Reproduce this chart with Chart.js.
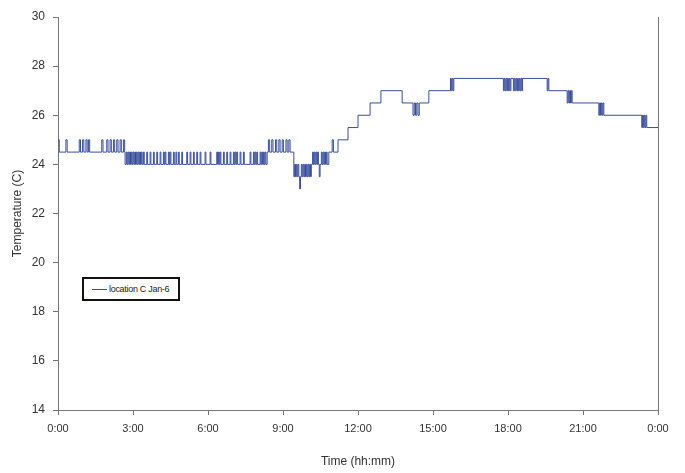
<!DOCTYPE html>
<html>
<head>
<meta charset="utf-8">
<script src="https://cdn.jsdelivr.net/npm/chart.js@4.4.1/dist/chart.umd.min.js"></script>
<style>
  body { margin: 0; background: #fff; }
  #wrap { position: relative; width: 685px; height: 473px; }
  #legend {
    position: absolute; left: 82px; top: 277px; width: 94px; height: 20px;
    border: 2px solid #111; background: #fff;
    font-family: 'Liberation Sans', Arial, sans-serif;
    font-size: 9px; letter-spacing: -0.3px; color: #222; line-height: 20px; white-space: nowrap;
  }
  #legend .swatch {
    display: inline-block; width: 15px; height: 0; border-top: 1px solid #3a4f9c;
    vertical-align: middle; margin: 0 2px 0 8px;
  }
</style>
</head>
<body>
<div id="wrap">
  <canvas id="myChart" width="685" height="473"></canvas>
  <div id="legend"><span class="swatch"></span>location C Jan-6</div>
</div>
<script>
// readings: minutes after midnight, temperature in C (logger flickers between two levels)
var nightTimes = [0, 3, 19, 22, 51, 54, 59, 62, 67, 70, 73, 76, 105, 108, 117, 120, 125, 128, 133, 136, 141, 144, 149, 152, 157, 160];
var nightTemps = [25, 24.5, 25, 24.5, 25, 24.5, 25, 24.5, 25, 24.5, 25, 24.5, 25, 24.5, 25, 24.5, 25, 24.5, 25, 24.5, 25, 24.5, 25, 24.5, 25, 24.5];

var earlyTimes = [161, 164, 166, 168, 170, 172, 174, 176, 178, 180, 182, 184, 186, 188, 190, 192, 194, 196, 198, 200, 202,
    205, 207, 213, 215, 221, 223, 229, 231, 237, 239, 245, 247, 253, 255, 257, 259, 265, 267, 269, 271, 277, 279, 283, 285,
    289, 291, 297, 299, 309, 311, 317, 319, 325, 327, 333, 335, 341, 343, 353, 355, 365, 367, 381, 383, 385, 387, 389, 391,
    397, 399, 405, 407, 413, 415, 421, 423, 425, 427, 429, 431, 437, 439, 445, 447, 461, 463, 469, 471, 473, 475, 477, 479,
    485, 487, 489, 491, 493, 495, 497, 499];
var earlyTemps = [24, 24.5, 24, 24.5, 24, 24.5, 24, 24.5, 24, 24.5, 24, 24.5, 24, 24.5, 24, 24.5, 24, 24.5, 24, 24.5, 24,
    24.5, 24, 24.5, 24, 24.5, 24, 24.5, 24, 24.5, 24, 24.5, 24, 24.5, 24, 24.5, 24, 24.5, 24, 24.5, 24, 24.5, 24, 24.5, 24,
    24.5, 24, 24.5, 24, 24.5, 24, 24.5, 24, 24.5, 24, 24.5, 24, 24.5, 24, 24.5, 24, 24.5, 24, 24.5, 24, 24.5, 24, 24.5, 24,
    24.5, 24, 24.5, 24, 24.5, 24, 24.5, 24, 24.5, 24, 24.5, 24, 24.5, 24, 24.5, 24, 24.5, 24, 24.5, 24, 24.5, 24, 24.5, 24,
    24.5, 24, 24.5, 24, 24.5, 24, 24.5, 24];

var morningTimes = [502, 505, 508, 513, 516, 522, 525, 530, 533, 538, 541, 547, 550, 554, 557,
    566, 568, 570, 572, 574, 576, 578, 580, 582, 584, 586, 588, 590, 592, 594, 596, 598, 600, 602, 604, 606,
    608, 611, 613, 615, 617, 619, 621, 623, 625, 627, 629, 632, 634, 636, 638, 640, 642, 644, 646,
    650, 658, 661];
var morningTemps = [24.5, 25, 24.5, 25, 24.5, 25, 24.5, 25, 24.5, 25, 24.5, 25, 24.5, 25, 24.5,
    23.5, 24, 23.5, 24, 23.5, 24, 23.5, 23, 23.5, 24, 23.5, 24, 23.5, 24, 23.5, 24, 23.5, 24, 23.5, 24, 23.5,
    24, 24.5, 24, 24.5, 24, 24.5, 24, 24.5, 24, 23.5, 24, 24.5, 24, 24.5, 24, 24.5, 24, 24.5, 24,
    24.5, 25, 24.5];

var middayTimes = [672, 696, 720, 749, 775, 826, 852, 855, 858, 861, 864, 867, 890, 942, 944, 946, 948, 950];
var middayTemps = [25, 25.5, 26, 26.5, 27, 26.5, 26, 26.5, 26, 26.5, 26, 26.5, 27, 27.5, 27, 27.5, 27, 27.5];

var eveningTimes = [1069, 1071, 1073, 1075, 1077, 1079, 1081, 1083, 1085, 1087, 1093, 1095, 1097, 1099, 1101, 1103,
    1105, 1107, 1109, 1111, 1113, 1115, 1174, 1176, 1178, 1222, 1224, 1226, 1228, 1230, 1232, 1234,
    1298, 1300, 1302, 1304, 1306, 1308, 1310, 1401, 1403, 1405, 1407, 1409, 1411, 1413, 1440];
var eveningTemps = [27, 27.5, 27, 27.5, 27, 27.5, 27, 27.5, 27, 27.5, 27, 27.5, 27, 27.5, 27, 27.5,
    27, 27.5, 27, 27.5, 27, 27.5, 27, 27.5, 27, 26.5, 27, 26.5, 27, 26.5, 27, 26.5,
    26, 26.5, 26, 26.5, 26, 26.5, 26, 25.5, 26, 25.5, 26, 25.5, 26, 25.5, 25.5];

var xTicks = [0, 180, 360, 540, 720, 900, 1080, 1260, 1440];
var yMin = 14, yMax = 30, yStep = 2;

var main = function() {
    var times = nightTimes.concat(earlyTimes, morningTimes, middayTimes, eveningTimes);
    var temps = nightTemps.concat(earlyTemps, morningTemps, middayTemps, eveningTemps);
    var points = times.map(function(t, i) { return {x: t, y: temps[i]}; });

    var font = "'Liberation Sans', Arial, sans-serif";
    var ctx = document.getElementById("myChart").getContext('2d');
    var myChart = new Chart(ctx, {
        type: 'line',
        data: {
            datasets: [{
                label: 'location C Jan-6',
                data: points,
                borderColor: '#3a4f9c',
                borderWidth: 1,
                pointRadius: 0,
                stepped: true,
                fill: false
            }]
        },
        options: {
            responsive: false,
            animation: false,
            layout: { padding: { left: 4, right: 0, top: 17, bottom: 0 } },
            plugins: { legend: { display: false }, tooltip: { enabled: false } },
            scales: {
                x: {
                    type: 'linear',
                    min: 0,
                    max: 1440,
                    afterBuildTicks: function(s) { s.ticks = xTicks.map(function(v) { return {value: v}; }); },
                    ticks: {
                        color: '#333',
                        font: { family: font, size: 11 },
                        padding: 7,
                        maxRotation: 0,
                        callback: function(v) {
                            var h = Math.floor(v / 60) % 24, m = v % 60;
                            return h + ':' + (m < 10 ? '0' : '') + m;
                        }
                    },
                    grid: { drawOnChartArea: false, drawTicks: true, tickLength: 5, color: '#777' },
                    border: { color: '#777' },
                    title: { display: true, text: 'Time (hh:mm)', color: '#333', font: { family: font, size: 12 }, padding: { top: 4, bottom: 4 } },
                    afterFit: function(s) { s.height = 63; }
                },
                y: {
                    min: yMin,
                    max: yMax,
                    ticks: { stepSize: yStep, color: '#333', font: { family: font, size: 12 }, padding: 8 },
                    grid: { drawOnChartArea: false, drawTicks: true, tickLength: 5, color: '#777' },
                    border: { color: '#777' },
                    title: { display: true, text: 'Temperature (C)', color: '#333', font: { family: font, size: 12 }, padding: { top: 6, bottom: 0 } },
                    afterFit: function(s) { s.width = 54; }
                },
                y2: {
                    position: 'right',
                    min: yMin,
                    max: yMax,
                    ticks: { display: false },
                    grid: { drawOnChartArea: false, drawTicks: false },
                    border: { color: '#777' },
                    afterFit: function(s) { s.width = 27; }
                }
            }
        }
    });
};

window.addEventListener('load', main);
</script>
</body>
</html>
